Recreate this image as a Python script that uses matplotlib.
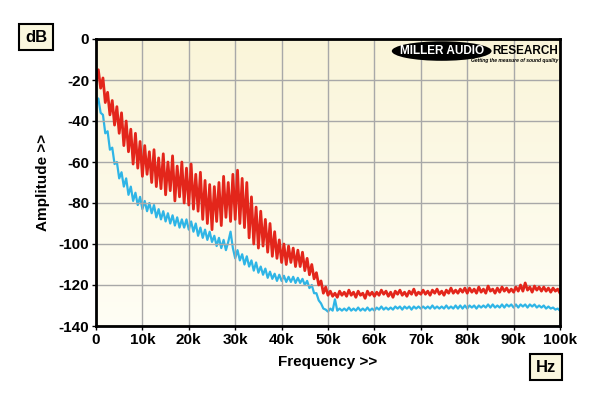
import numpy as np
import matplotlib
matplotlib.use('Agg')
import matplotlib.pyplot as plt
from matplotlib.patches import Ellipse

plt.rcParams['font.family'] = ['Liberation Sans', 'DejaVu Sans']
plt.rcParams['axes.unicode_minus'] = False

# frequency grid, kHz, 0.5 kHz steps
freq_khz = np.arange(0, 100.01, 0.5)

red_db = [
    -21, -15, -24, -19, -31, -26, -37, -30, -42, -33, -46, -36, -52, -40, -55, -44, -61, -46, -63, -50,
    -67, -52, -66, -55, -70, -54, -72, -58, -73, -56, -76, -60, -74, -57, -79, -62, -77, -60, -80, -63,
    -81, -61, -83, -66, -84, -65, -88, -69, -90, -71, -93, -72, -89, -70, -91, -67, -87, -70, -89, -66,
    -88, -64, -90, -68, -92, -70, -97, -77, -100, -82, -102, -84, -101, -88, -104, -90, -106, -94, -107, -98,
    -109, -100, -110, -101, -109, -102, -111, -103, -111, -104, -113, -107, -115, -110, -117, -114, -120, -118, -124, -121,
    -125,
    -123, -125.5, -124, -126, -123, -125, -123.5, -125.5, -122.5, -125, -123.5, -126, -123, -125, -124, -126.5, -123, -125, -123.5, -125.5,
    -123.5, -125, -122.5, -124.5, -123, -125.5, -123.5, -126, -123, -124.5, -122.5, -125, -123.5, -125.5, -123, -124.5, -122, -125, -123.5, -124.5,
    -122.5, -124.5, -123, -125, -122.5, -124, -122, -124.5, -123, -125, -122.5, -124, -121.5, -124, -122.5, -124, -122, -123.5, -121.5, -124,
    -121.5, -123.5, -122, -124, -121, -123.5, -122, -124, -120.5, -123, -122, -124, -121.5, -123.5, -121, -123, -121.5, -123.5, -122, -123.5,
    -121, -123, -120, -123, -119, -122.5, -121, -123.5, -120.5, -122.5, -121, -123, -121, -123, -121.5, -123.5, -121.5, -123, -122, -124,
]

blue_db = [
    -32, -29, -36, -37, -46, -45, -54, -53, -61, -60, -68, -65, -72, -68, -76, -72, -79, -75, -81, -77,
    -83, -79, -84, -80, -85, -81, -87, -83, -88, -84, -89, -85, -90, -86, -91, -87, -92, -88, -92, -88,
    -93, -89, -94, -90, -96, -92, -97, -93, -98, -94, -99, -96, -101, -97, -102, -98, -103, -99, -94, -102,
    -107, -103, -108, -105, -110, -106, -111, -108, -113, -109, -114, -111, -115, -112, -116.5, -113.5, -117, -114.5, -118, -115,
    -118, -115.5, -118.5, -116, -118.5, -116, -119, -116.5, -119, -117, -120, -118, -121.5, -120, -124, -124, -127.5, -129, -131.5, -132,
    -133,
    -131.5, -132.5, -127, -132.5, -131.5, -132.5, -131.5, -132.5, -131, -132.5, -131.5, -132.5, -131, -132.5, -131.5, -132.5, -131, -132.5, -131.5, -132.5,
    -131, -132, -130.5, -132, -131, -132, -131, -132, -130.5, -131.5, -130.5, -132, -130.5, -131.5, -130.5, -132, -130.5, -131.5, -130.5, -131.5,
    -130.5, -131.5, -130.5, -131.5, -130, -131.5, -130.5, -131.5, -130.5, -131.5, -130, -131.5, -130.5, -131.5, -130, -131.5, -130, -131.5, -130, -131.5,
    -130, -131, -130, -131.5, -130, -131, -130, -131, -129.5, -131, -129.5, -131, -130, -131, -129.5, -131, -129.5, -130.5, -129.5, -131,
    -129.5, -131, -129.5, -130.5, -129.5, -131, -129.5, -130.5, -129.5, -131, -130, -131, -130, -131.5, -130.5, -131.5, -131, -132, -131.5, -132.5,
]

x_ticks = [0, 10, 20, 30, 40, 50, 60, 70, 80, 90, 100]
x_labels = ['0', '10k', '20k', '30k', '40k', '50k', '60k', '70k', '80k', '90k', '100k']
y_ticks = [0, -20, -40, -60, -80, -100, -120, -140]

fig = plt.figure(figsize=(6, 3.96), dpi=100)
ax = fig.add_axes([96/600, 1-326/396, 464/600, 287/396])

# pale yellow gradient background
grad = np.linspace(0, 1, 256).reshape(-1, 1)
top = np.array([0.98, 0.96, 0.85])
bot = np.array([1.0, 0.995, 0.96])
img = top + (bot - top) * grad[:, :, None]
ax.imshow(img, extent=[0, 1, 0, 1], transform=ax.transAxes, aspect='auto', zorder=0)

ax.plot(freq_khz, red_db, color='#e3261b', lw=2.0, zorder=3)
ax.plot(freq_khz, blue_db, color='#2fb5e6', lw=1.6, zorder=2)

ax.set_xlim(0, 100)
ax.set_ylim(-140, 0)
ax.set_xticks(x_ticks)
ax.set_xticklabels(x_labels)
ax.set_yticks(y_ticks)
ax.set_yticklabels([str(v) for v in y_ticks])
ax.grid(True, color='#a8a8a8', lw=1.0, zorder=1)
ax.set_axisbelow(False)
for s in ax.spines.values():
    s.set_linewidth(2)
    s.set_zorder(5)
ax.tick_params(direction='out', length=3, width=1, labelsize=11, pad=2)
for lab in ax.get_xticklabels() + ax.get_yticklabels():
    lab.set_fontweight('bold')

ax.set_xlabel('Frequency >>', fontsize=11, fontweight='bold', labelpad=6)
ax.set_ylabel('Amplitude >>', fontsize=11, fontweight='bold', labelpad=6)

box = dict(boxstyle='square,pad=0.35', fc='#faf7de', ec='black', lw=1.5)
fig.text(36/600, 1-37/396, 'dB', fontsize=12, fontweight='bold', ha='center', va='center', bbox=box)
fig.text(546/600, 1-367/396, 'Hz', fontsize=12, fontweight='bold', ha='center', va='center', bbox=box)

# logo
narrow = ['Liberation Sans Narrow', 'Liberation Sans', 'DejaVu Sans']
ax.add_patch(Ellipse((0.745, 0.958), 0.215, 0.068, transform=ax.transAxes, fc='black', ec='none', zorder=6))
ax.text(0.745, 0.958, 'MILLER AUDIO', transform=ax.transAxes, color='white', fontsize=8.5,
        family=narrow, fontweight='bold', ha='center', va='center', zorder=7)
ax.text(0.996, 0.958, 'RESEARCH', transform=ax.transAxes, color='black', fontsize=8.5,
        family=narrow, fontweight='bold', ha='right', va='center', zorder=7)
ax.text(0.996, 0.925, 'Getting the measure of sound quality', transform=ax.transAxes, color='black',
        fontsize=3.6, family=narrow, fontweight='bold', style='italic', ha='right', va='center', zorder=7)

fig.savefig('out.png', dpi=100)
